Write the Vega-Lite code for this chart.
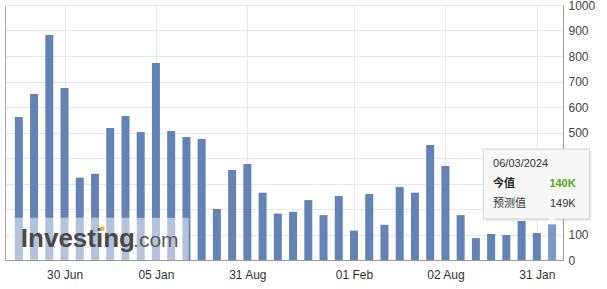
{
  "$schema": "https://vega.github.io/schema/vega-lite/v6.json",
  "width": 558,
  "height": 255,
  "autosize": "none",
  "padding": {"left": 5, "top": 5, "right": 44, "bottom": 29},
  "background": "white",
  "config": {"view": {"stroke": null}, "font": "Liberation Sans"},
  "datasets": {
    "bars": [
      {"i": 1, "value": 561}, {"i": 2, "value": 651}, {"i": 3, "value": 882}, {"i": 4, "value": 675},
      {"i": 5, "value": 323}, {"i": 6, "value": 338}, {"i": 7, "value": 518}, {"i": 8, "value": 565},
      {"i": 9, "value": 502}, {"i": 10, "value": 773}, {"i": 11, "value": 506}, {"i": 12, "value": 482},
      {"i": 13, "value": 475}, {"i": 14, "value": 200}, {"i": 15, "value": 353}, {"i": 16, "value": 376},
      {"i": 17, "value": 264}, {"i": 18, "value": 182}, {"i": 19, "value": 189}, {"i": 20, "value": 235},
      {"i": 21, "value": 176}, {"i": 22, "value": 251}, {"i": 23, "value": 115}, {"i": 24, "value": 259},
      {"i": 25, "value": 138}, {"i": 26, "value": 286}, {"i": 27, "value": 264}, {"i": 28, "value": 451},
      {"i": 29, "value": 369}, {"i": 30, "value": 176}, {"i": 31, "value": 86}, {"i": 32, "value": 102},
      {"i": 33, "value": 98}, {"i": 34, "value": 153}, {"i": 35, "value": 106}, {"i": 36, "value": 140}
    ]
  },
  "layer": [
    {
      "data": {"name": "bars"},
      "mark": {"type": "bar", "width": 8},
      "encoding": {
        "x": {
          "field": "i", "type": "quantitative", "title": null,
          "scale": {"domain": [0.42, 36.39], "nice": false, "zero": false},
          "axis": {
            "values": [4, 10, 16, 23, 29, 35],
            "labelExpr": "datum.value==4?'30 Jun':datum.value==10?'05 Jan':datum.value==16?'31 Aug':datum.value==23?'01 Feb':datum.value==29?'02 Aug':'31 Jan'",
            "grid": true, "gridColor": "#e8e8e8", "ticks": false, "domainColor": "#9a9a9a",
            "labelFontSize": 12, "labelColor": "#333", "labelPadding": 9, "labelFlush": false, "labelOverlap": false, "zindex": 0
          }
        },
        "y": {
          "field": "value", "type": "quantitative", "title": null,
          "scale": {"domain": [0, 1000], "nice": false},
          "axis": {
            "orient": "right", "values": [0, 100, 200, 300, 400, 500, 600, 700, 800, 900, 1000],
            "labelExpr": "datum.value >= 200 && datum.value <= 400 ? '' : format(datum.value, 'd')",
            "grid": true, "gridColor": "#e8e8e8", "ticks": false, "domainColor": "#9a9a9a",
            "labelFontSize": 12, "labelColor": "#444", "labelPadding": 5, "zindex": 0
          }
        },
        "color": {"condition": {"test": "datum.i == 36", "value": "#7b9bcb"}, "value": "#6283b4"}
      }
    },
    {
      "mark": {"type": "rule", "color": "#8dbbea", "strokeWidth": 1},
      "encoding": {
        "y": {"datum": 140, "type": "quantitative", "title": null,
          "axis": {"orient": "left", "labels": false, "ticks": false, "grid": false, "domainColor": "#aaaaaa", "title": null, "zindex": 0}}
      }
    },
    {
      "data": {"values": [{"x1": 0.42, "x2": 12.15, "y1": 0, "y2": 166}]},
      "mark": {"type": "rect", "fill": "white", "opacity": 0.52},
      "encoding": {
        "x": {"field": "x1", "type": "quantitative", "title": null},
        "x2": {"field": "x2"},
        "y": {"field": "y1", "type": "quantitative", "axis": null},
        "y2": {"field": "y2"}
      }
    },
    {
      "data": {"values": [{"x": 1.13, "y": 51, "t": "Investing"}]},
      "mark": {"type": "text", "align": "left", "baseline": "alphabetic", "fontSize": 26, "fontWeight": "bold", "color": "#4a4a4a"},
      "encoding": {
        "x": {"field": "x", "type": "quantitative", "title": null},
        "y": {"field": "y", "type": "quantitative", "axis": null},
        "text": {"field": "t"}
      }
    },
    {
      "data": {"values": [{"x": 8.5, "y": 51, "t": ".com"}]},
      "mark": {"type": "text", "align": "left", "baseline": "alphabetic", "fontSize": 21, "color": "#5a5a5a"},
      "encoding": {
        "x": {"field": "x", "type": "quantitative", "title": null},
        "y": {"field": "y", "type": "quantitative", "axis": null},
        "text": {"field": "t"}
      }
    },
    {
      "data": {"values": [{"x": 6.48, "y": 123}]},
      "mark": {"type": "square", "size": 18, "color": "#f5b335", "opacity": 1},
      "encoding": {
        "x": {"field": "x", "type": "quantitative", "title": null},
        "y": {"field": "y", "type": "quantitative", "axis": null}
      }
    },
    {
      "data": {"values": [{"x1": 31.62, "x2": 38.6, "y1": 153, "y2": 427}]},
      "mark": {"type": "rect", "fill": "#000000", "opacity": 0.08},
      "encoding": {
        "x": {"field": "x1", "type": "quantitative", "title": null},
        "x2": {"field": "x2"},
        "y": {"field": "y1", "type": "quantitative", "axis": null},
        "y2": {"field": "y2"}
      }
    },
    {
      "data": {"values": [{"x1": 31.49, "x2": 38.45, "y1": 161, "y2": 435}]},
      "mark": {"type": "rect", "fill": "#f8f8f8", "stroke": "#d2d2d2", "strokeWidth": 1},
      "encoding": {
        "x": {"field": "x1", "type": "quantitative", "title": null},
        "x2": {"field": "x2"},
        "y": {"field": "y1", "type": "quantitative", "axis": null},
        "y2": {"field": "y2"}
      }
    },
    {
      "data": {"values": [{"x": 36, "y": 153}]},
      "mark": {"type": "point", "shape": "triangle-down", "size": 70, "filled": true, "color": "#f8f8f8", "opacity": 1},
      "encoding": {
        "x": {"field": "x", "type": "quantitative", "title": null},
        "y": {"field": "y", "type": "quantitative", "axis": null}
      }
    },
    {
      "data": {"values": [{"x": 32.13, "y": 376, "t": "06/03/2024"}]},
      "mark": {"type": "text", "align": "left", "baseline": "middle", "fontSize": 11, "color": "#333"},
      "encoding": {
        "x": {"field": "x", "type": "quantitative", "title": null},
        "y": {"field": "y", "type": "quantitative", "axis": null},
        "text": {"field": "t"}
      }
    },
    {
      "data": {"values": [{"x": 32.13, "y": 298, "t": "今值"}]},
      "mark": {"type": "text", "align": "left", "baseline": "middle", "fontSize": 11, "fontWeight": "bold", "color": "#222", "font": "Noto Sans CJK SC"},
      "encoding": {
        "x": {"field": "x", "type": "quantitative", "title": null},
        "y": {"field": "y", "type": "quantitative", "axis": null},
        "text": {"field": "t"}
      }
    },
    {
      "data": {"values": [{"x": 32.13, "y": 220, "t": "预测值"}]},
      "mark": {"type": "text", "align": "left", "baseline": "middle", "fontSize": 11, "color": "#333", "font": "Noto Sans CJK SC"},
      "encoding": {
        "x": {"field": "x", "type": "quantitative", "title": null},
        "y": {"field": "y", "type": "quantitative", "axis": null},
        "text": {"field": "t"}
      }
    },
    {
      "data": {"values": [{"x": 37.55, "y": 298, "t": "140K"}]},
      "mark": {"type": "text", "align": "right", "baseline": "middle", "fontSize": 11, "fontWeight": "bold", "color": "#52a81c"},
      "encoding": {
        "x": {"field": "x", "type": "quantitative", "title": null},
        "y": {"field": "y", "type": "quantitative", "axis": null},
        "text": {"field": "t"}
      }
    },
    {
      "data": {"values": [{"x": 37.55, "y": 220, "t": "149K"}]},
      "mark": {"type": "text", "align": "right", "baseline": "middle", "fontSize": 11, "color": "#333"},
      "encoding": {
        "x": {"field": "x", "type": "quantitative", "title": null},
        "y": {"field": "y", "type": "quantitative", "axis": null},
        "text": {"field": "t"}
      }
    }
  ],
  "resolve": {"axis": {"y": "independent"}}
}
